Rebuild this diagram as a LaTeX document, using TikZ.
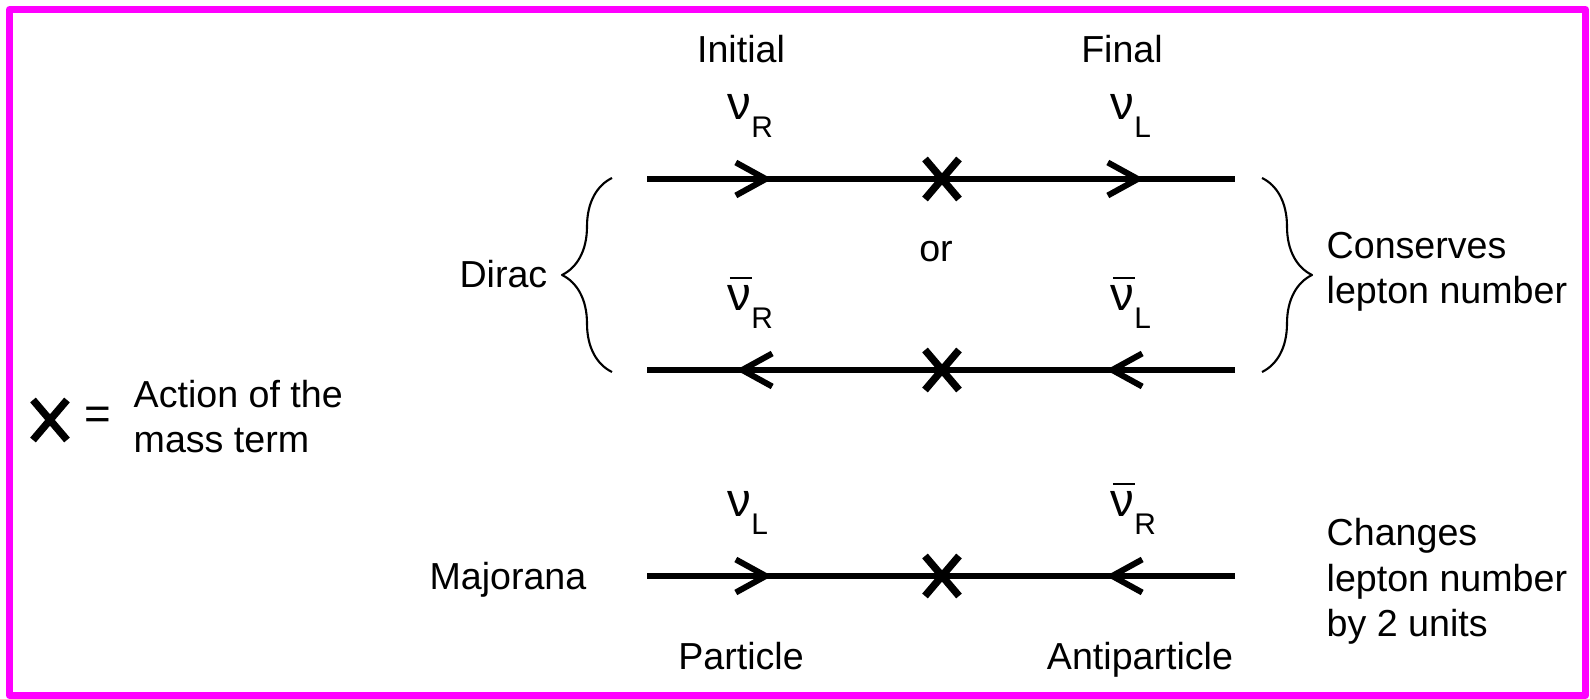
\documentclass[tikz,border=0pt]{standalone}
\usepackage{fontspec}
\setmainfont{Liberation Sans}
\usetikzlibrary{arrows.meta, decorations.markings, decorations.pathreplacing}

\newcommand{\nulab}[1]{{\fontsize{13.5}{14}\selectfont ν}\raisebox{-5pt}{\fontsize{8.5}{9}\selectfont #1}}
\newcommand{\nubarlab}[1]{\makebox[0pt][l]{\raisebox{9pt}{\hspace{0.6pt}\rule{6.2pt}{0.6pt}}}\nulab{#1}}

\tikzset{
  fermion/.style={line width=1.9pt},
  arr/.style={postaction={decorate}, decoration={markings, mark=at position #1 with {\arrow{Straight Barb[length=3mm, width=3.3mm, line width=1.7pt]}}}},
  brc/.style={decorate, decoration={brace, amplitude=5mm}, line width=0.6pt},
  txt/.style={inner sep=0pt},
  masscross/.pic={\draw[line width=2.1pt] (-0.17,-0.2) -- (0.17,0.2) (-0.17,0.2) -- (0.17,-0.2);}
}

\begin{document}
\begin{tikzpicture}[font=\fontsize{10.7}{13}\selectfont, line join=round]
    \useasboundingbox (0,0) rectangle (15.9,6.99);

    % Frame
    \draw[draw={rgb,255:red,255;green,0;blue,255}, line width=2pt] (0.095,0.035) rectangle (15.855,6.895);

    % End points and mass insertions of the three lines
    \coordinate (d1s) at (6.47, 5.20);
    \coordinate (d1x) at (9.42, 5.20);
    \coordinate (d1e) at (12.35, 5.20);
    \coordinate (d2s) at (6.47, 3.29);
    \coordinate (d2x) at (9.42, 3.29);
    \coordinate (d2e) at (12.35, 3.29);
    \coordinate (ms) at (6.47, 1.23);
    \coordinate (mx) at (9.42, 1.23);
    \coordinate (me) at (12.35, 1.23);

    % Dirac: nu_R -> nu_L
    \draw[fermion, arr=1.25cm] (d1s) -- (d1x);
    \draw[fermion, arr=2.02cm] (d1x) -- (d1e);
    % Dirac: antineutrinos
    \draw[fermion, arr=2.06cm] (d2x) -- (d2s);
    \draw[fermion, arr=1.29cm] (d2e) -- (d2x);
    % Majorana
    \draw[fermion, arr=1.25cm] (ms) -- (mx);
    \draw[fermion, arr=1.29cm] (me) -- (mx);

    \pic at (d1x) {masscross};
    \pic at (d2x) {masscross};
    \pic at (mx) {masscross};

    % Braces
    \coordinate (lb1) at (6.12, 3.27);
    \coordinate (lb2) at (6.12, 5.21);
    \coordinate (rb1) at (12.62, 5.21);
    \coordinate (rb2) at (12.62, 3.27);
    \draw[brc] (lb1) -- (lb2);
    \draw[brc] (rb1) -- (rb2);

    % Labels
    \node[txt, anchor=base] (ini) at (7.41, 6.36) {Initial};
    \node[txt, anchor=base] (fin) at (11.22, 6.36) {Final};
    \node[txt, anchor=base west] (nuR) at (7.27, 5.79) {\nulab{R}};
    \node[txt, anchor=base west] (nuL) at (11.10, 5.79) {\nulab{L}};
    \node[txt, anchor=base west] (anuR) at (7.27, 3.88) {\nubarlab{R}};
    \node[txt, anchor=base west] (anuL) at (11.10, 3.88) {\nubarlab{L}};
    \node[txt, anchor=base west] (mnuL) at (7.27, 1.82) {\nulab{L}};
    \node[txt, anchor=base west] (manuR) at (11.10, 1.82) {\nubarlab{R}};
    \node[txt, anchor=base] (or) at (9.36, 4.37) {or};
    \node[txt, anchor=base east] (dirac) at (5.48, 4.11) {Dirac};
    \node[txt, anchor=base east] (maj) at (5.87, 1.09) {Majorana};
    \node[txt, anchor=base] (part) at (7.41, 0.29) {Particle};
    \node[txt, anchor=base] (apart) at (11.40, 0.29) {Antiparticle};
    \node[txt, anchor=base west, align=left] (cons) at (13.26, 3.95) {Conserves\\lepton number};
    \node[txt, anchor=base west, align=left] (chg) at (13.26, 0.62) {Changes\\lepton number\\by 2 units};

    % Legend
    \pic at (0.50, 2.79) {masscross};
    \node[txt, font=\fontsize{13}{14}\selectfont] (eq) at (0.98, 2.81) {=};
    \node[txt, anchor=base west, align=left] (act) at (1.33, 2.46) {Action of the\\mass term};

\end{tikzpicture}
\end{document}
